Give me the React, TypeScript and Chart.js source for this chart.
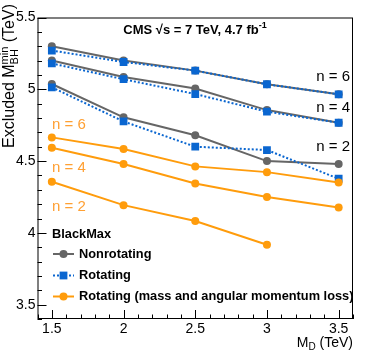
import React, { useEffect, useRef } from "react";
import { Chart, registerables } from "chart.js";

Chart.register(...registerables);

const massPoints = [1.5, 2, 2.5, 3, 3.5];

const nonrotN6 = [5.3, 5.2, 5.13, 5.035, 4.965];
const nonrotN4 = [5.2, 5.085, 5.005, 4.855, 4.767];
const nonrotN2 = [5.037, 4.805, 4.68, 4.5, 4.48];

const rotN6 = [5.27, 5.19, 5.13, 5.035, 4.965];
const rotN4 = [5.18, 5.07, 4.967, 4.844, 4.767];
const rotN2 = [5.014, 4.776, 4.6, 4.577, 4.377];

const lossN6 = [4.665, 4.584, 4.463, 4.423, 4.35];
const lossN4 = [4.593, 4.48, 4.344, 4.25, 4.177];
const lossN2 = [4.356, 4.193, 4.082, 3.917];

const xTickLabels = ["1.5", "2", "2.5", "3", "3.5"];
const yTickLabels = ["3.5", "4", "4.5", "5", "5.5"];

const legendLabels = [
  "Nonrotating",
  "Rotating",
  "Rotating (mass and angular momentum loss)",
];

const GRAY = "#666666";
const BLUE = "#0a66d0";
const ORANGE = "#ff9c0c";
const ORANGE_TXT = "#ffa033";
const FF = '"Liberation Sans", Arial, Helvetica, sans-serif';

const toPts = (ys: number[]) => ys.map((y, i) => ({ x: massPoints[i], y }));

type Part = { t: string; font: string; dy?: number; stackWith?: Part };

function partsWidth(ctx: CanvasRenderingContext2D, parts: Part[]) {
  let w = 0;
  for (const p of parts) {
    ctx.font = p.font;
    let pw = ctx.measureText(p.t).width;
    if (p.stackWith) {
      ctx.font = p.stackWith.font;
      pw = Math.max(pw, ctx.measureText(p.stackWith.t).width);
    }
    w += pw;
  }
  return w;
}

function drawParts(
  ctx: CanvasRenderingContext2D,
  parts: Part[],
  x: number,
  y: number,
  align: "left" | "center" | "right"
) {
  const total = partsWidth(ctx, parts);
  let cx = align === "left" ? x : align === "center" ? x - total / 2 : x - total;
  ctx.textAlign = "left";
  ctx.textBaseline = "middle";
  for (const p of parts) {
    ctx.font = p.font;
    let pw = ctx.measureText(p.t).width;
    ctx.fillText(p.t, cx, y + (p.dy || 0));
    if (p.stackWith) {
      ctx.font = p.stackWith.font;
      pw = Math.max(pw, ctx.measureText(p.stackWith.t).width);
      ctx.fillText(p.stackWith.t, cx, y + (p.stackWith.dy || 0));
    }
    cx += pw;
  }
}

const rootPlugin = {
  id: "rootStyle",
  afterDraw(chart: any) {
    const ctx: CanvasRenderingContext2D = chart.ctx;
    const { left, right, top, bottom } = chart.chartArea;
    const xs = chart.scales.x;
    const ys = chart.scales.y;
    ctx.save();
    ctx.strokeStyle = "#000";
    ctx.lineWidth = 1;
    ctx.strokeRect(left + 0.5, top + 0.5, right - left - 1, bottom - top - 1);

    ctx.beginPath();
    for (let k = 34; k <= 55; k++) {
      const py = Math.round(ys.getPixelForValue(k / 10)) + 0.5;
      const major = k % 5 === 0;
      ctx.moveTo(left, py);
      ctx.lineTo(left + (major ? 9 : 4.5), py);
    }
    for (let k = 14; k <= 36; k++) {
      const px = Math.round(xs.getPixelForValue(k / 10)) + 0.5;
      const major = k % 5 === 0;
      ctx.moveTo(px, bottom);
      ctx.lineTo(px, bottom - (major ? 9 : 4.5));
    }
    ctx.stroke();

    ctx.fillStyle = "#000";
    ctx.font = `14px ${FF}`;
    ctx.textBaseline = "middle";
    ctx.textAlign = "right";
    yTickLabels.forEach((lab) => {
      ctx.fillText(lab, left - 2, ys.getPixelForValue(parseFloat(lab)));
    });
    ctx.textAlign = "center";
    xTickLabels.forEach((lab) => {
      ctx.fillText(lab, xs.getPixelForValue(parseFloat(lab)), bottom + 10);
    });

    drawParts(
      ctx,
      [
        { t: "M", font: `14px ${FF}` },
        { t: "D", font: `10px ${FF}`, dy: 4 },
        { t: " (TeV)", font: `14px ${FF}` },
      ],
      right,
      343,
      "right"
    );

    ctx.save();
    ctx.translate(10, 0);
    ctx.rotate(-Math.PI / 2);
    drawParts(
      ctx,
      [
        { t: "Excluded M", font: `16px ${FF}` },
        {
          t: "BH",
          font: `11px ${FF}`,
          dy: 4.5,
          stackWith: { t: "min", font: `11px ${FF}`, dy: -5 },
        },
        { t: " (TeV)", font: `16px ${FF}` },
      ],
      -4,
      0,
      "right"
    );
    ctx.restore();

    drawParts(
      ctx,
      [
        { t: "CMS \u221As = 7 TeV, 4.7 fb", font: `bold 13px ${FF}` },
        { t: "-1", font: `bold 9px ${FF}`, dy: -4 },
      ],
      195,
      30,
      "center"
    );

    ctx.font = `15px ${FF}`;
    ctx.textAlign = "right";
    ctx.textBaseline = "middle";
    ctx.fillStyle = "#000";
    ctx.fillText("n = 6", 350, 77);
    ctx.fillText("n = 4", 350, 108);
    ctx.fillText("n = 2", 350, 147);
    ctx.fillStyle = ORANGE_TXT;
    ctx.textAlign = "left";
    ctx.fillText("n = 6", 52, 125);
    ctx.fillText("n = 4", 52, 168);
    ctx.fillText("n = 2", 52, 207);

    ctx.fillStyle = "#000";
    ctx.font = `bold 12.8px ${FF}`;
    ctx.textAlign = "left";
    ctx.fillText("BlackMax", 52, 234);
    const rows = [254, 275.5, 296.5];
    const styles = [
      { c: GRAY, dash: [] as number[], shape: "circle", r: 4 },
      { c: BLUE, dash: [2, 2], shape: "rect", r: 5.5 },
      { c: ORANGE, dash: [] as number[], shape: "circle", r: 4 },
    ];
    rows.forEach((ry, i) => {
      const s = styles[i];
      ctx.strokeStyle = s.c;
      ctx.lineWidth = 2;
      ctx.setLineDash(s.dash);
      ctx.beginPath();
      ctx.moveTo(53, ry);
      ctx.lineTo(74, ry);
      ctx.stroke();
      ctx.setLineDash([]);
      ctx.fillStyle = s.c;
      if (s.shape === "circle") {
        ctx.beginPath();
        ctx.arc(63.5, ry, s.r, 0, Math.PI * 2);
        ctx.fill();
      } else {
        const h = s.r * Math.SQRT1_2;
        ctx.fillRect(63.5 - h, ry - h, 2 * h, 2 * h);
      }
      ctx.fillStyle = "#000";
      ctx.font = `bold 12.8px ${FF}`;
      ctx.fillText(legendLabels[i], 79, ry);
    });
    ctx.restore();
  },
};

function lineDs(data: number[], color: string, kind: "gray" | "blue" | "orange") {
  return {
    data: toPts(data),
    borderColor: color,
    backgroundColor: color,
    borderWidth: 2,
    borderDash: kind === "blue" ? [2, 2] : [],
    pointStyle: kind === "blue" ? "rect" : "circle",
    pointRadius: kind === "blue" ? 5.5 : 4,
    pointBorderWidth: 0,
    pointHoverRadius: kind === "blue" ? 5.5 : 4,
    tension: 0,
    order: kind === "gray" ? 3 : kind === "blue" ? 2 : 1,
  };
}

export default function App() {
  const ref = useRef<HTMLCanvasElement | null>(null);
  useEffect(() => {
    if (!ref.current) return;
    const chart = new Chart(ref.current, {
      type: "line",
      data: {
        datasets: [
          lineDs(nonrotN6, GRAY, "gray"),
          lineDs(nonrotN4, GRAY, "gray"),
          lineDs(nonrotN2, GRAY, "gray"),
          lineDs(rotN6, BLUE, "blue"),
          lineDs(rotN4, BLUE, "blue"),
          lineDs(rotN2, BLUE, "blue"),
          lineDs(lossN6, ORANGE, "orange"),
          lineDs(lossN4, ORANGE, "orange"),
          lineDs(lossN2, ORANGE, "orange"),
        ] as any,
      },
      options: {
        animation: false,
        responsive: false,
        maintainAspectRatio: false,
        layout: { padding: { left: 37.5, right: 21, top: 17.5, bottom: 36 } },
        plugins: { legend: { display: false }, tooltip: { enabled: false } },
        scales: {
          x: { type: "linear", min: 1.4, max: 3.6, display: false },
          y: { type: "linear", min: 3.4, max: 5.5, display: false },
        },
      },
      plugins: [rootPlugin],
    });
    return () => chart.destroy();
  }, []);
  return (
    <div style={{ position: "fixed", left: 0, top: 0, width: 374, height: 355, background: "#fff" }}>
      <canvas ref={ref} width={374} height={355} style={{ width: 374, height: 355 }} />
    </div>
  );
}
